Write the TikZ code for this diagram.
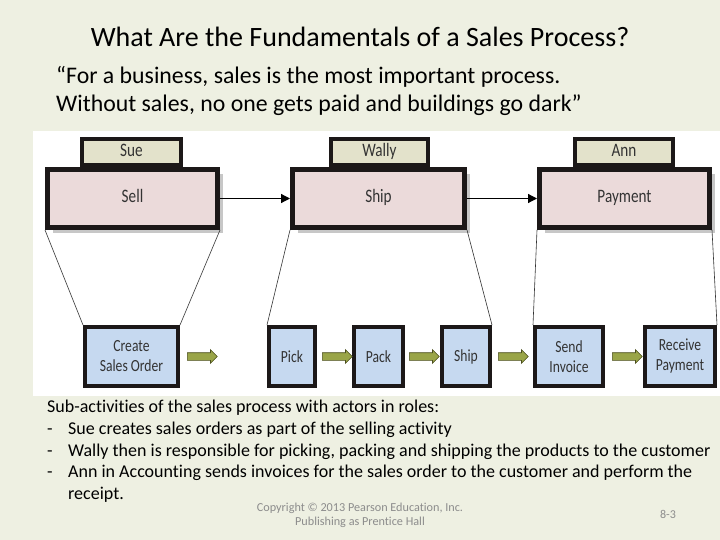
\documentclass[tikz,border=0pt]{standalone}
\usepackage{fontspec}
\setmainfont[Ligatures=NoCommon]{Carlito}
\newfontfamily\boxfont[FakeStretch=0.8,Ligatures=NoCommon]{Carlito}
\usetikzlibrary{positioning,shapes.arrows,shadows,arrows.meta}

\definecolor{slidebg}{HTML}{EEF0E2}
\definecolor{tabfill}{HTML}{E3E2CB}
\definecolor{stepfill}{HTML}{EBDADA}
\definecolor{taskfill}{HTML}{C6D9F0}
\definecolor{flowfill}{HTML}{9AA548}
\definecolor{flowline}{HTML}{4B4E1E}
\definecolor{boxline}{HTML}{1C1818}
\definecolor{boxtext}{HTML}{333333}
\definecolor{copygrey}{HTML}{8C8C8C}

\tikzset{
  actor/.style={draw=boxline, line width=4pt, fill=tabfill, minimum width=#1,
    minimum height=26pt, inner sep=0pt, text=boxtext, text height=11pt, text depth=2pt,
    font=\boxfont\fontsize{19}{19}\selectfont},
  activity/.style={draw=boxline, line width=5pt, fill=stepfill, minimum width=#1,
    minimum height=58pt, inner sep=0pt, text=boxtext, text height=11pt, text depth=2pt,
    font=\boxfont\fontsize{19}{19}\selectfont,
    drop shadow={shadow xshift=5pt, shadow yshift=-5pt, fill=black!22, opacity=1}},
  task/.style={draw=boxline, line width=4pt, fill=taskfill, minimum width=#1,
    minimum height=59pt, inner sep=0pt, align=center, text=boxtext,
    font=\boxfont\fontsize{17}{20}\selectfont},
  flow/.style={single arrow, draw=flowline, line width=0.6pt, fill=flowfill,
    minimum height=30pt, inner xsep=0pt, inner ysep=3.5pt,
    single arrow head extend=3pt},
  funnel/.style={line width=0.6pt, black!80},
}

\begin{document}
\begin{tikzpicture}[x=1pt, y=-1pt]
\fill[slidebg] (0,0) rectangle (720,540);
\useasboundingbox (0,0) rectangle (720,540);
\fill[white] (33,131) rectangle (720,396);

% roles
\node[actor=99pt] (sue) at (131.5,152) {Sue};
\node[actor=97pt] (wally) at (379.5,152) {Wally};
\node[actor=98pt] (ann) at (624,152) {Ann};

% main activities
\node[activity=170pt] (sell) at (132.5,198.5) {Sell};
\node[activity=172pt] (ship) at (378.5,198.5) {Ship};
\node[activity=170pt] (payment) at (624.5,198.5) {Payment};

\draw[line width=1.2pt, -{Triangle[length=9pt,width=9pt]}] (sell) -- (ship);
\draw[line width=1.2pt, -{Triangle[length=9pt,width=9pt]}] (ship) -- (payment);

% sub-activities
\node[task=93pt] (order) at (131.5,356.5) {Create\\Sales Order};
\node[task=46pt] (pick) at (292,356.5) {Pick};
\node[task=49pt] (pack) at (378.5,356.5) {Pack};
\node[task=48pt] (send) at (466,356.5) {Ship};
\node[task=68pt] (invoice) at (569,356.5) {Send\\Invoice};
\node[task=70pt] (receive) at (680,356.5) {Receive\\Payment};

\node[flow, right=7pt of order] (f1) {};
\node[flow, right=5pt of pick] (f2) {};
\node[flow, right=4pt of pack] (f3) {};
\node[flow, right=6pt of send] (f4) {};
\node[flow, right=7pt of invoice] (f5) {};

\draw[funnel] (sell.south west) -- (order.north west);
\draw[funnel] (sell.south east) -- (order.north east);
\draw[funnel] (ship.south west) -- (pick.north west);
\draw[funnel] (ship.south east) -- (send.north east);
\draw[funnel] (payment.south west) -- (invoice.north west);
\draw[funnel] (payment.south east) -- (receive.north east);

% slide text
\node[font=\fontsize{28}{32}\selectfont] (title) at (360,37) {What Are the Fundamentals of a Sales Process?};
\node[anchor=north west, align=left, inner sep=0pt, font=\fontsize{23.8}{28}\selectfont] (quote) at (56,66)
  {“For a business, sales is the most important process.\\
   Without sales, no one gets paid and buildings go dark”};
\node[anchor=north west, align=left, inner sep=0pt, font=\fontsize{18}{21.7}\selectfont] (roles) at (47,400)
  {Sub-activities of the sales process with actors in roles:\\
   \makebox[21pt][l]{-}Sue creates sales orders as part of the selling activity\\
   \makebox[21pt][l]{-}Wally then is responsible for picking, packing and shipping the products to the customer\\
   \makebox[21pt][l]{-}Ann in Accounting sends invoices for the sales order to the customer and perform the\\
   \hspace*{21pt}receipt.};
\node[align=center, text=copygrey, font=\fontsize{12.2}{14}\selectfont] (copy) at (360,515)
  {Copyright © 2013 Pearson Education, Inc.\\Publishing as Prentice Hall};
\node[text=copygrey, font=\fontsize{12}{14}\selectfont] (page) at (668,514) {8-3};
\end{tikzpicture}
\end{document}
